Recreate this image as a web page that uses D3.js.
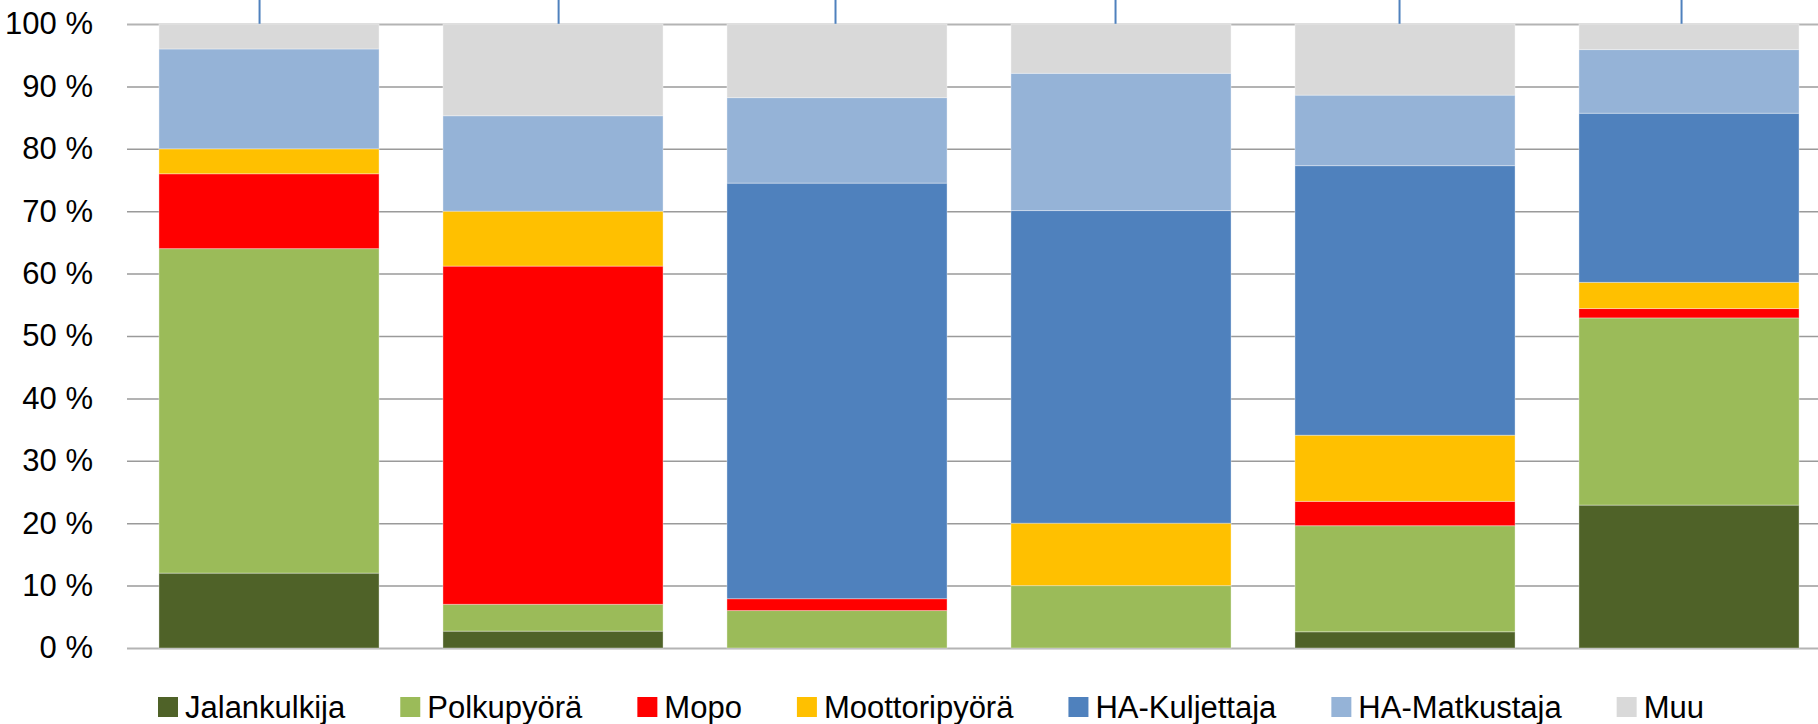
<!DOCTYPE html>
<html>
<head>
<meta charset="utf-8">
<script src="https://cdn.jsdelivr.net/npm/d3@7"></script>
<style>
  body { margin: 0; background: #fff; }
  svg { display: block; font-family: "Liberation Sans", Arial, sans-serif; }
</style>
</head>
<body>
<svg></svg>
<script>
// ----- Data ----- //
var categories = ["1", "2", "3", "4", "5", "6"];
var seriesNames = ["Jalankulkija", "Polkupyörä", "Mopo", "Moottoripyörä", "HA-Kuljettaja", "HA-Matkustaja", "Muu"];
var seriesColors = ["#4F6228", "#9BBB59", "#FF0000", "#FFC000", "#4F81BD", "#95B3D7", "#D9D9D9"];

var jalankulkija  = [12, 2.7, 0, 0, 2.6, 22.9];
var polkupyora    = [52, 4.3, 6, 10, 17, 30];
var mopo          = [12, 54.2, 1.9, 0, 3.9, 1.5];
var moottoripyora = [4, 8.8, 0, 10, 10.6, 4.2];
var haKuljettaja  = [0, 0, 66.6, 50.1, 43.2, 27.1];
var haMatkustaja  = [16, 15.3, 13.7, 22, 11.3, 10.2];
var muu           = [4, 14.7, 11.8, 7.9, 11.4, 4.1];

var yTicks = [0, 10, 20, 30, 40, 50, 60, 70, 80, 90, 100];
// marks along the top edge, in category units
var topMarks = [0.465, 1.518, 2.493, 3.479, 4.479, 5.472];

var seriesValues = [jalankulkija, polkupyora, mopo, moottoripyora, haKuljettaja, haMatkustaja, muu];

var svgWidth = 1818;
var svgHeight = 724;
var margin = {top: 24, right: -13, bottom: 76, left: 127};
var width = svgWidth - margin.left - margin.right;
var height = svgHeight - margin.top - margin.bottom;

var svg = d3.select("svg")
  .attr('width', svgWidth)
  .attr('height', svgHeight);

var g = svg.append('g')
  .attr('transform', translate(margin.left, margin.top));

// table for the stack
var table = categories.map(function(c, i) {
  var row = {category: c};
  seriesNames.forEach(function(s, j) { row[s] = seriesValues[j][i]; });
  return row;
});

var stacked = d3.stack().keys(seriesNames)(table);

var x = d3.scaleBand()
  .domain(categories)
  .range([0, width])
  .paddingInner(0.225)
  .paddingOuter(0.1125);

var xTop = d3.scaleLinear()
  .domain([0, categories.length])
  .range([0, width]);

var y = d3.scaleLinear()
  .domain([0, 100])
  .range([height, 0]);

var color = d3.scaleOrdinal().domain(seriesNames).range(seriesColors);

// ----- Grid + y labels ----- //
var yAxis = g.append('g')
  .attr('class', 'y_axis')
  .call(d3.axisLeft(y).tickValues(yTicks).tickSize(-width).tickPadding(34)
    .tickFormat(function(d) { return d + ' %'; }));
yAxis.select('.domain').remove();
yAxis.selectAll('.tick line')
  .attr('stroke', function(d) { return (d === 0 || d === 100) ? '#b4b4b4' : '#9a9a9a'; })
  .attr('stroke-width', function(d) { return (d === 0 || d === 100) ? 2.2 : 1.5; });
yAxis.selectAll('.tick text')
  .attr('fill', '#000')
  .style('font-size', '31px');

// ----- Top marks ----- //
var topAxis = g.append('g')
  .attr('class', 'top_axis')
  .call(d3.axisTop(xTop).tickValues(topMarks).tickSize(margin.top).tickFormat(''));
topAxis.select('.domain').remove();
topAxis.selectAll('.tick line').attr('stroke', '#4F81BD').attr('stroke-width', 2);

// ----- Bars ----- //
g.selectAll('.layer')
  .data(stacked)
  .enter()
  .append('g')
  .attr('class', 'layer')
  .attr('fill', function(d) { return color(d.key); })
  .selectAll('rect')
  .data(function(d) { return d; })
  .enter()
  .append('rect')
  .attr('x', function(d) { return x(d.data.category); })
  .attr('y', function(d) { return y(d[1]); })
  .attr('width', x.bandwidth())
  .attr('height', function(d) { return y(d[0]) - y(d[1]); })
  .attr('stroke', '#fff')
  .attr('stroke-opacity', 0.35)
  .attr('stroke-width', 1);

// ----- Legend ----- //
var legend = svg.append('g')
  .attr('class', 'legend')
  .attr('transform', translate(158, 707));

var lx = 0;
seriesNames.forEach(function(name) {
  var item = legend.append('g').attr('transform', translate(lx, 0));
  item.append('rect')
    .attr('x', 0).attr('y', -10)
    .attr('width', 20).attr('height', 20)
    .attr('fill', color(name));
  var t = item.append('text')
    .attr('x', 27)
    .attr('dy', '0.35em')
    .style('font-size', '31px')
    .attr('fill', '#000')
    .text(name);
  lx += 27 + t.node().getComputedTextLength() + 55;
});

function translate(x, y) {
  return 'translate(' + x + ',' + y + ')';
}
</script>
</body>
</html>
